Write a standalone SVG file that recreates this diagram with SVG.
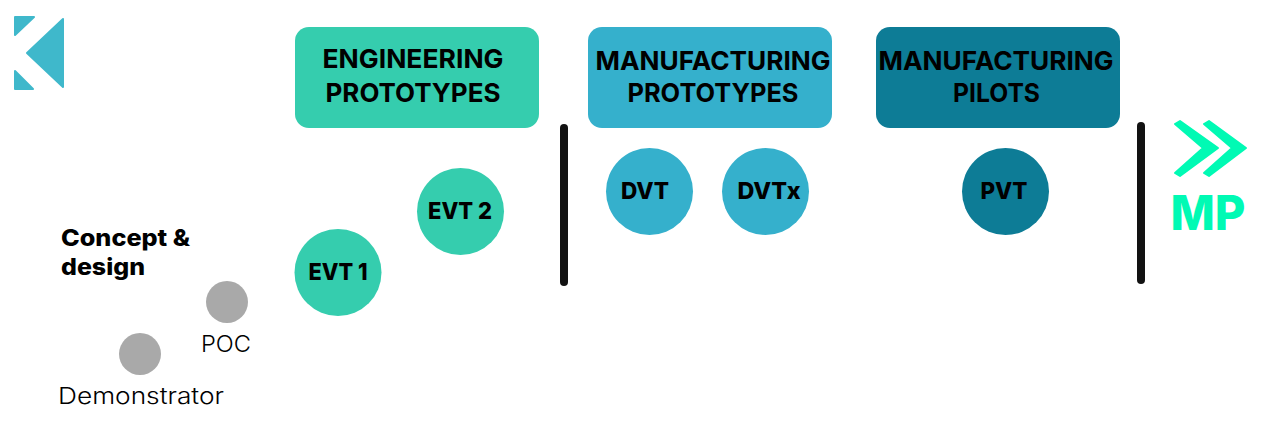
<svg xmlns="http://www.w3.org/2000/svg" width="1280" height="438" viewBox="0 0 1280 438">
<style>
text{font-family:"Inter","Liberation Sans",sans-serif;fill:#000;text-anchor:middle}
.h{font-size:26px;font-weight:700}
.c{font-size:23px;font-weight:800}
.l{font-size:23px;font-weight:300}
.t{font-size:23px;font-weight:800;text-anchor:start}
.g{fill:#35cdae}.b{fill:#35b0cc}.d{fill:#0d7c96}.n{fill:#a9a9a9}
.bar{stroke:#121212;stroke-width:8;stroke-linecap:round;fill:none}
</style>
<rect width="1280" height="438" fill="#fff"/>
<g id="logo" fill="#3fb8cb" stroke="#3fb8cb" stroke-width="2" stroke-linejoin="round">
<path d="M15 17H34L15 35Z"/><path d="M15 71L33 89H15Z"/><path d="M63 19V87L27 53Z"/>
</g>
<g id="engineering"><rect class="g" x="295" y="27" width="244" height="101" rx="14"/>
<text class="h" x="413" y="68" textLength="181" lengthAdjust="spacingAndGlyphs">ENGINEERING</text>
<text class="h" x="413" y="102" textLength="175" lengthAdjust="spacingAndGlyphs">PROTOTYPES</text></g>
<g id="manufacturing-prototypes"><rect class="b" x="588" y="27" width="244" height="101" rx="14"/>
<text class="h" x="713" y="70" textLength="235" lengthAdjust="spacingAndGlyphs">MANUFACTURING</text>
<text class="h" x="713" y="102" textLength="171" lengthAdjust="spacingAndGlyphs">PROTOTYPES</text></g>
<g id="manufacturing-pilots"><rect class="d" x="876" y="27" width="244" height="101" rx="14"/>
<text class="h" x="996" y="70" textLength="235" lengthAdjust="spacingAndGlyphs">MANUFACTURING</text>
<text class="h" x="996.5" y="102" textLength="87" lengthAdjust="spacingAndGlyphs">PILOTS</text></g>
<g id="connectors"><path class="bar" d="M564 128V282"/><path class="bar" d="M1141 126V280"/></g>
<g id="evt1"><circle class="g" cx="338" cy="272.500" r="43.500"/><text class="c" x="338" y="280" textLength="59" lengthAdjust="spacingAndGlyphs">EVT 1</text></g>
<g id="evt2"><circle class="g" cx="460.500" cy="211.500" r="43.500"/><text class="c" x="460" y="219" textLength="64" lengthAdjust="spacingAndGlyphs">EVT 2</text></g>
<g id="dvt"><circle class="b" cx="649.500" cy="191.500" r="43.500"/><text class="c" x="645" y="199" textLength="48" lengthAdjust="spacingAndGlyphs">DVT</text></g>
<g id="dvtx"><circle class="b" cx="765.500" cy="191.500" r="43.500"/><text class="c" x="769" y="199" textLength="63" lengthAdjust="spacingAndGlyphs">DVTx</text></g>
<g id="pvt"><circle class="d" cx="1005.500" cy="191.500" r="43.500"/><text class="c" x="1004" y="199" textLength="47" lengthAdjust="spacingAndGlyphs">PVT</text></g>
<g id="poc"><circle class="n" cx="227" cy="302" r="21"/><text class="l" x="226" y="352" textLength="50" lengthAdjust="spacingAndGlyphs">POC</text></g>
<g id="demonstrator"><circle class="n" cx="140" cy="354" r="21"/><text class="l" x="141" y="404" textLength="166" lengthAdjust="spacingAndGlyphs">Demonstrator</text></g>
<g id="concept"><text class="t" x="61" y="246" textLength="129" lengthAdjust="spacingAndGlyphs">Concept &amp;</text><text class="t" x="61" y="275" textLength="84" lengthAdjust="spacingAndGlyphs">design</text></g>
<g id="mp" fill="#00fab4" stroke="#00fab4" stroke-width="2" stroke-linejoin="round">
<path d="M1175 124L1180 121L1218 148L1180 176L1175 173L1203 148Z"/>
<path d="M1204 124L1209 121L1246 148L1209 176L1204 173L1232 148Z"/>
<text x="1208" y="230" style="fill:#00fab4;stroke:none;font-size:48px;font-weight:800" textLength="75" lengthAdjust="spacingAndGlyphs">MP</text></g>
</svg>
